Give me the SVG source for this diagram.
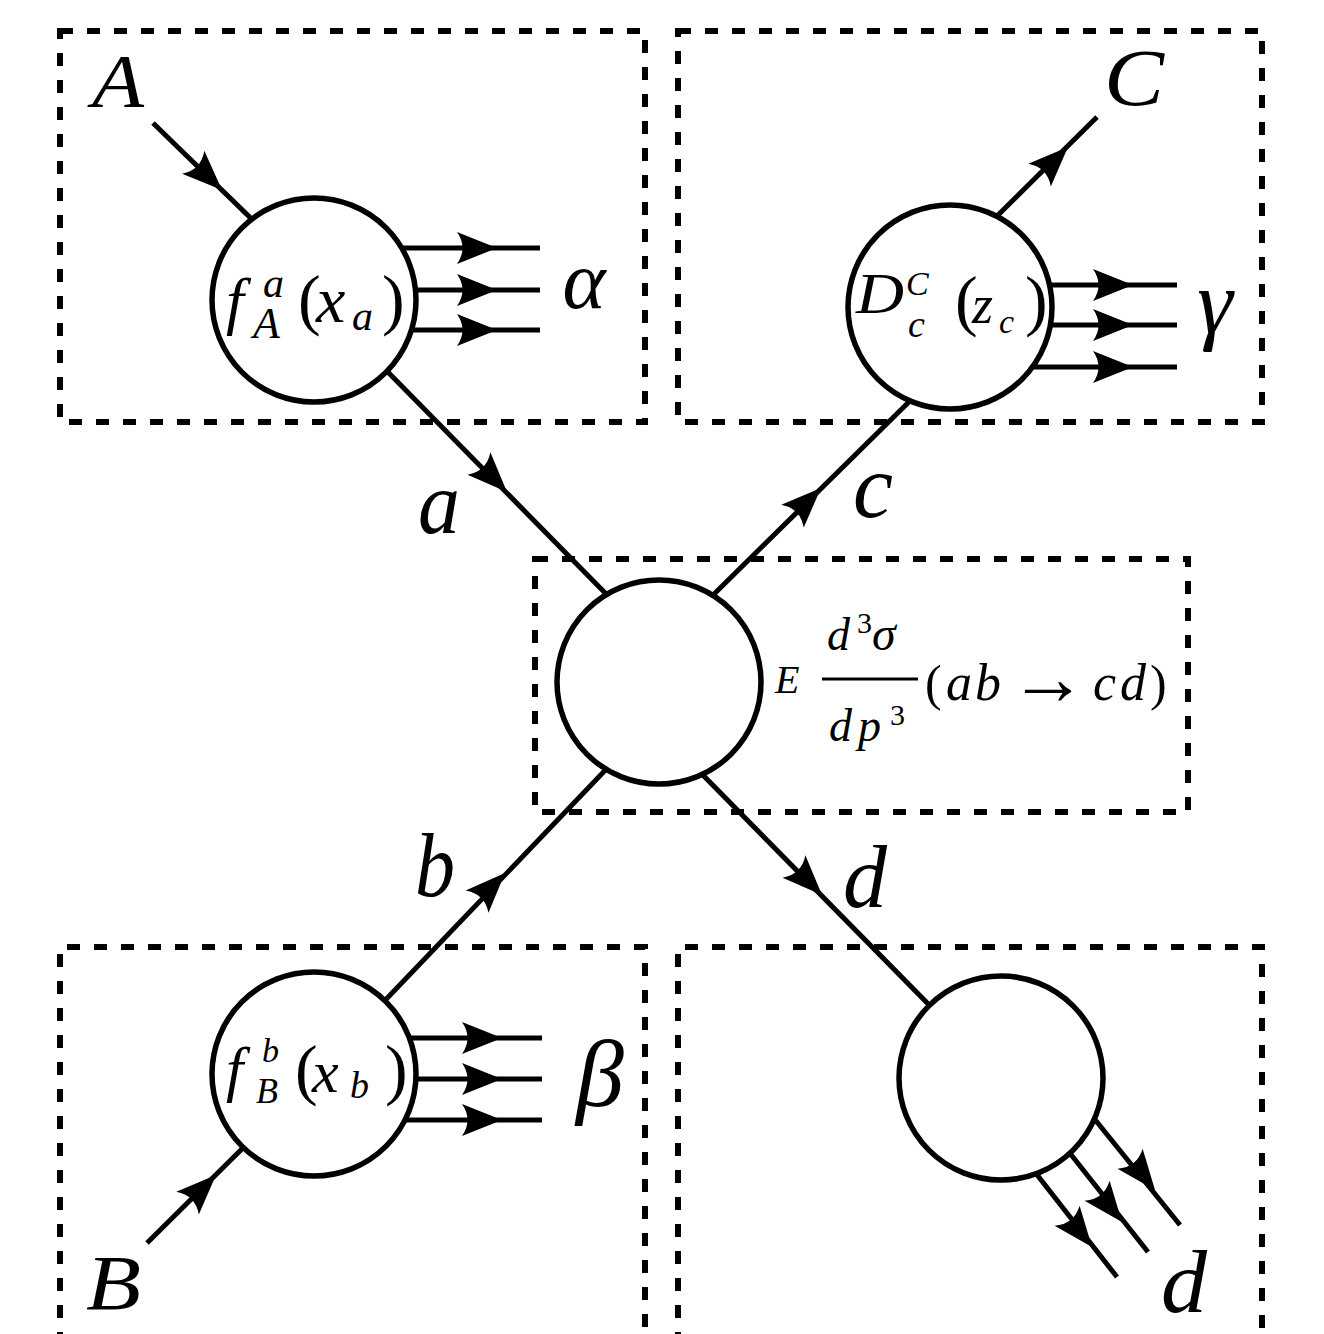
<svg xmlns="http://www.w3.org/2000/svg" xmlns:xlink="http://www.w3.org/1999/xlink" width="1324" height="1334" viewBox="0 0 1324 1334">
<style>
.box{fill:none;stroke:#000;stroke-width:6;stroke-dasharray:13 14}
.ln{fill:none;stroke:#000;stroke-width:5;stroke-linecap:butt}
.node{fill:#fff;stroke:#000;stroke-width:5.5}
.lbl{font-family:'Liberation Serif',serif;font-style:italic;fill:#000}
.up{font-style:normal}
</style>
<defs>
<path id="ah" d="M0,0 L-40,-16 Q-29,0 -40,16 Z" fill="#000"/>
</defs>
<rect width="1324" height="1334" fill="#fff"/>
<g id="boxes">
<rect class="box" x="60" y="31" width="585" height="391"/>
<rect class="box" x="678" y="31" width="584" height="391"/>
<rect class="box" x="535" y="559" width="653" height="253"/>
<path class="box" d="M60,1345 V947 H645 V1345"/>
<path class="box" d="M678,1345 V947 H1262 V1345"/>
</g>
<g id="connectors">
<line class="ln" x1="153" y1="123" x2="262" y2="229"/>
<line class="ln" x1="380" y1="364" x2="614" y2="602"/>
<line class="ln" x1="706" y1="602" x2="918" y2="393"/>
<line class="ln" x1="988" y1="225" x2="1097" y2="117"/>
<line class="ln" x1="372" y1="1014" x2="615" y2="760"/>
<line class="ln" x1="147" y1="1243" x2="255" y2="1136"/>
<line class="ln" x1="695" y1="767" x2="942" y2="1018"/>
<line class="ln" x1="380" y1="248" x2="540" y2="248"/>
<line class="ln" x1="380" y1="290" x2="540" y2="290"/>
<line class="ln" x1="380" y1="330" x2="540" y2="330"/>
<line class="ln" x1="1020" y1="285" x2="1177" y2="285"/>
<line class="ln" x1="1020" y1="325" x2="1177" y2="325"/>
<line class="ln" x1="1020" y1="367" x2="1177" y2="367"/>
<line class="ln" x1="380" y1="1038" x2="542" y2="1038"/>
<line class="ln" x1="380" y1="1079" x2="542" y2="1079"/>
<line class="ln" x1="380" y1="1120" x2="542" y2="1120"/>
<line class="ln" x1="1020" y1="1153" x2="1117" y2="1277"/>
<line class="ln" x1="1050" y1="1128" x2="1148" y2="1252"/>
<line class="ln" x1="1080" y1="1101" x2="1180" y2="1225"/>
<use xlink:href="#ah" transform="translate(222,190) rotate(44)"/>
<use xlink:href="#ah" transform="translate(507,492) rotate(45.5)"/>
<use xlink:href="#ah" transform="translate(821,488) rotate(-44.6)"/>
<use xlink:href="#ah" transform="translate(1068,147) rotate(-44.7)"/>
<use xlink:href="#ah" transform="translate(505,873) rotate(-45.7)"/>
<use xlink:href="#ah" transform="translate(216,1175) rotate(-44.7)"/>
<use xlink:href="#ah" transform="translate(822,895) rotate(45.5)"/>
<use xlink:href="#ah" transform="translate(497,248)"/>
<use xlink:href="#ah" transform="translate(497,290)"/>
<use xlink:href="#ah" transform="translate(497,330)"/>
<use xlink:href="#ah" transform="translate(1133,285)"/>
<use xlink:href="#ah" transform="translate(1133,325)"/>
<use xlink:href="#ah" transform="translate(1133,367)"/>
<use xlink:href="#ah" transform="translate(502,1038)"/>
<use xlink:href="#ah" transform="translate(502,1079)"/>
<use xlink:href="#ah" transform="translate(502,1120)"/>
<use xlink:href="#ah" transform="translate(1092,1247) rotate(51.5)"/>
<use xlink:href="#ah" transform="translate(1122,1222) rotate(51.5)"/>
<use xlink:href="#ah" transform="translate(1155,1190) rotate(51.5)"/>
<text class="lbl" x="418" y="533" font-size="88" textLength="42" lengthAdjust="spacingAndGlyphs">a</text>
<text class="lbl" x="853" y="517" font-size="92" textLength="40" lengthAdjust="spacingAndGlyphs">c</text>
<text class="lbl" x="415" y="896" font-size="90" textLength="40" lengthAdjust="spacingAndGlyphs">b</text>
<text class="lbl" x="843" y="907" font-size="88" textLength="44" lengthAdjust="spacingAndGlyphs">d</text>
</g>
<g id="node-fA">
<circle class="node" cx="314" cy="300" r="102"/>
<text class="lbl" font-size="64"><tspan x="226" y="322">f</tspan><tspan x="263" y="297" font-size="42">a</tspan><tspan x="253" y="338" font-size="44">A</tspan><tspan class="up" x="298" y="322" font-size="68">(</tspan><tspan x="316" y="322" font-size="66">x</tspan><tspan x="352" y="330" font-size="42">a</tspan><tspan class="up" x="382" y="322" font-size="68">)</tspan></text>
</g>
<g id="node-Dc">
<circle class="node" cx="950" cy="307" r="102"/>
<text class="lbl" font-size="56"><tspan x="856" y="313" textLength="48" lengthAdjust="spacingAndGlyphs">D</tspan><tspan x="906" y="295" font-size="34">C</tspan><tspan x="908" y="337" font-size="38">c</tspan><tspan class="up" x="955" y="323" font-size="68">(</tspan><tspan x="972" y="323" font-size="54">z</tspan><tspan x="999" y="333" font-size="34">c</tspan><tspan class="up" x="1025" y="323" font-size="68">)</tspan></text>
</g>
<g id="node-hard">
<circle class="node" cx="659" cy="682" r="102"/>
<line x1="822" y1="679" x2="918" y2="679" stroke="#000" stroke-width="3"/>
<text class="lbl" font-size="46"><tspan x="775" y="693" font-size="40">E</tspan><tspan x="827" y="650">d</tspan><tspan class="up" x="857" y="633" font-size="30">3</tspan><tspan x="872" y="650" font-size="48">σ</tspan><tspan x="829" y="741">d</tspan><tspan x="858" y="741">p</tspan><tspan class="up" x="890" y="725" font-size="30">3</tspan><tspan class="up" x="925" y="700" font-size="50">(</tspan><tspan x="946" y="700" font-size="52">a</tspan><tspan x="975" y="700" font-size="52">b</tspan><tspan x="1093" y="700" font-size="52">c</tspan><tspan x="1120" y="700" font-size="52">d</tspan><tspan class="up" x="1150" y="700" font-size="50">)</tspan></text>
<text class="lbl up" x="1048" y="704" font-size="78" text-anchor="middle">→</text>
</g>
<g id="node-fB">
<circle class="node" cx="314" cy="1074" r="102"/>
<text class="lbl" font-size="62"><tspan x="226" y="1090">f</tspan><tspan x="262" y="1062" font-size="34">b</tspan><tspan x="256" y="1103" font-size="36">B</tspan><tspan class="up" x="295" y="1092" font-size="68">(</tspan><tspan x="312" y="1092" font-size="60">x</tspan><tspan x="350" y="1098" font-size="38">b</tspan><tspan class="up" x="385" y="1092" font-size="68">)</tspan></text>
</g>
<g id="node-D">
<circle class="node" cx="1001" cy="1078" r="102"/>
</g>
<g id="labels">
<text class="lbl" x="92" y="107" font-size="76" textLength="52" lengthAdjust="spacingAndGlyphs">A</text>
<text class="lbl" x="1104" y="105" font-size="80" textLength="60" lengthAdjust="spacingAndGlyphs">C</text>
<text class="lbl" x="86" y="1309" font-size="78" textLength="55" lengthAdjust="spacingAndGlyphs">B</text>
<text class="lbl" x="1161" y="1312" font-size="88" textLength="46" lengthAdjust="spacingAndGlyphs">d</text>
<text class="lbl" x="584" y="308" font-size="82" text-anchor="middle">α</text>
<text class="lbl" x="1215" y="333" font-size="90" text-anchor="middle">γ</text>
<text class="lbl" x="600" y="1106" font-size="96" text-anchor="middle">β</text>
</g>
</svg>
